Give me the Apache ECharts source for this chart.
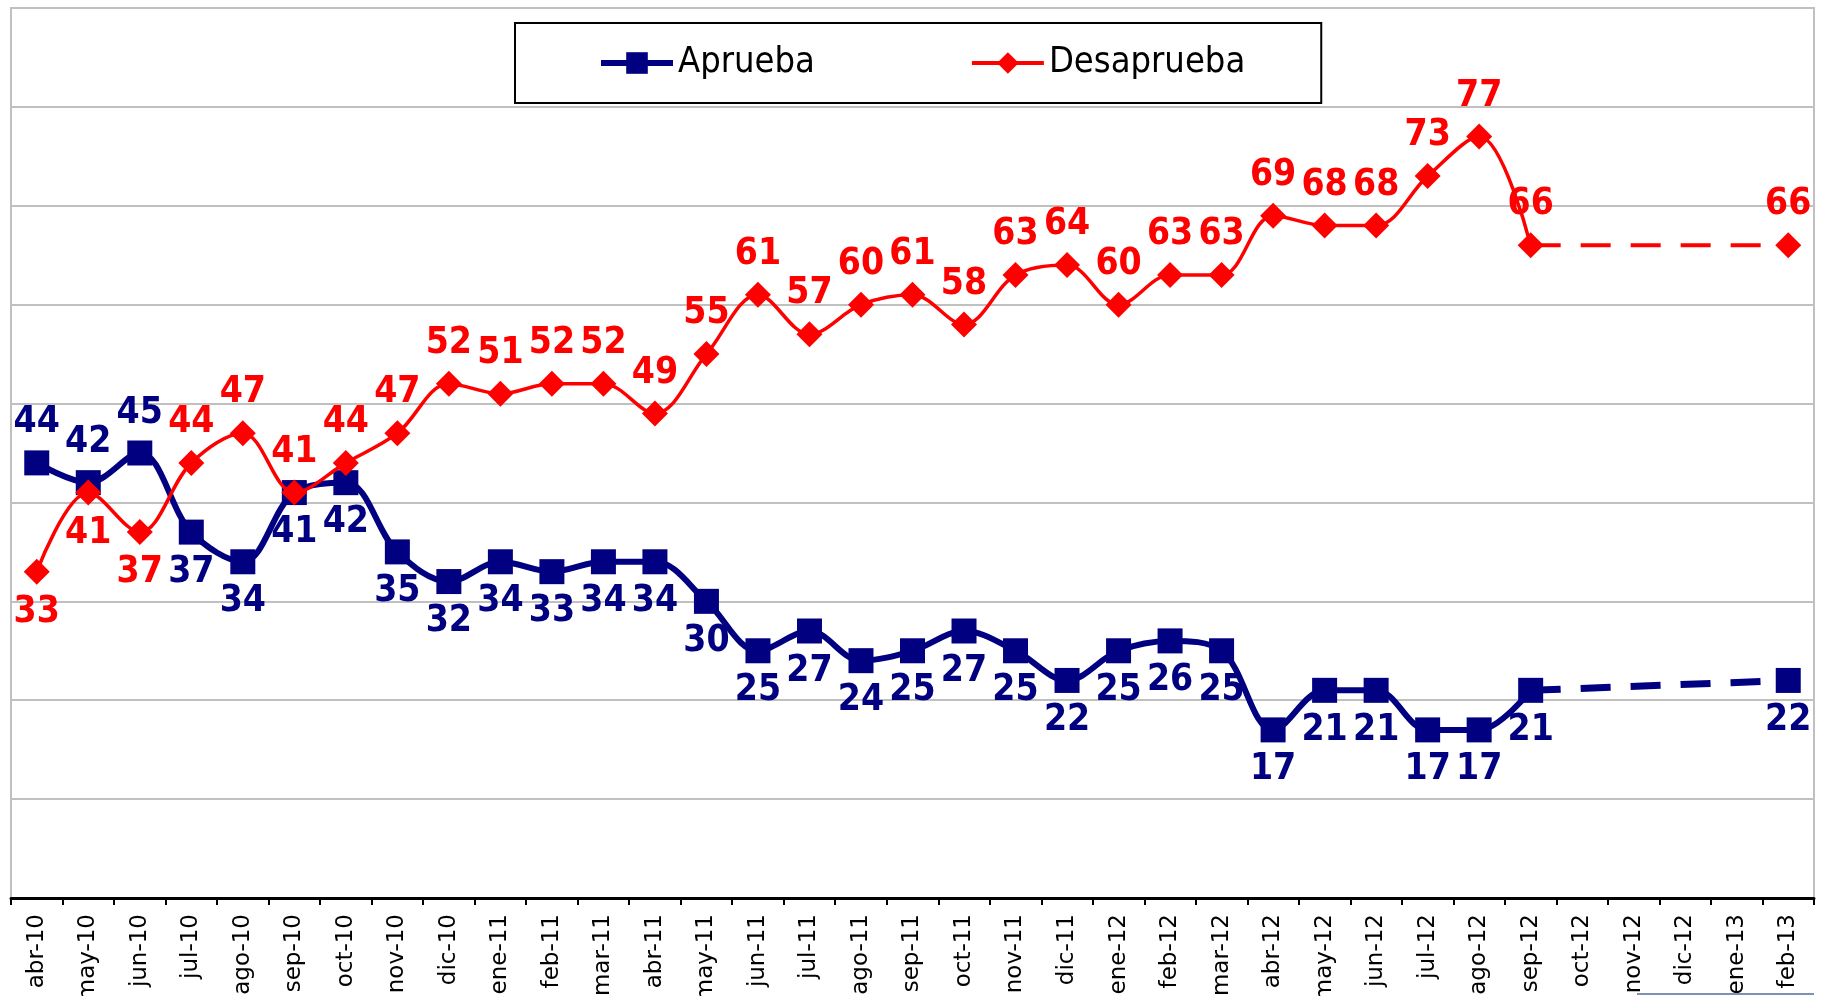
<!DOCTYPE html>
<html>
<head>
<meta charset="utf-8">
<title>Aprueba / Desaprueba</title>
<script src="https://cdn.jsdelivr.net/npm/echarts@6/dist/echarts.min.js"></script>
<style>
  html, body { margin: 0; padding: 0; background: #ffffff; }
  #chart { width: 1827px; height: 996px; }
</style>
</head>
<body>
<div id="chart"></div>
<script>
// Monthly survey: approval vs. disapproval (%)
const months = ['abr-10','may-10','jun-10','jul-10','ago-10','sep-10','oct-10','nov-10','dic-10',
  'ene-11','feb-11','mar-11','abr-11','may-11','jun-11','jul-11','ago-11','sep-11','oct-11','nov-11','dic-11',
  'ene-12','feb-12','mar-12','abr-12','may-12','jun-12','jul-12','ago-12','sep-12','oct-12','nov-12','dic-12',
  'ene-13','feb-13'];

// null = no survey that month
const aprueba = [44, 42, 45, 37, 34, 41, 42, 35, 32, 34, 33, 34, 34, 30, 25, 27, 24, 25, 27, 25, 22,
  25, 26, 25, 17, 21, 21, 17, 17, 21, null, null, null, null, 22];
const desaprueba = [33, 41, 37, 44, 47, 41, 44, 47, 52, 51, 52, 52, 49, 55, 61, 57, 60, 61, 58, 63, 64,
  60, 63, 63, 69, 68, 68, 73, 77, 66, null, null, null, null, 66];

// Points whose value label sits on the opposite side of the line
const apruebaLabelsAbove = [0, 1, 2];
const desapruebaLabelsBelow = [0, 1, 2];

const NAVY = '#000080';
const RED = '#ff0000';
const LABEL_FONT = '"DejaVu Sans Condensed", "DejaVu Sans", sans-serif';

// Continuous run of monthly readings (solid line)
function solidPart(values) {
  const firstGap = values.indexOf(null);
  return values.map((v, i) => (i < firstGap ? v : null));
}
// Bridge across the months without data (dashed line)
function bridgePart(values, pos) {
  const firstGap = values.indexOf(null);
  const last = values.length - 1;
  return values.map((v, i) => {
    if (i === firstGap - 1) return { value: v, symbol: 'none', label: { show: false } };
    if (i === last) return { value: v, label: { show: true, position: pos } };
    return null;
  });
}
function labelled(values, flipIdx, defPos, altPos) {
  return values.map((v, i) => {
    if (v === null) return null;
    return { value: v, label: { position: flipIdx.includes(i) ? altPos : defPos } };
  });
}

const labelBase = (color) => ({
  show: true,
  color: color,
  fontFamily: LABEL_FONT,
  fontWeight: 'bold',
  fontSize: 37,
  distance: 9
});

const chart = echarts.init(document.getElementById('chart'), null, { renderer: 'canvas' });

chart.setOption({
  backgroundColor: '#ffffff',
  animation: false,
  grid: {
    left: 11, right: 13, top: 8, bottom: 98,
    show: true, borderColor: '#c0c0c0', borderWidth: 2,
    containLabel: false, outerBoundsMode: 'none'
  },
  legend: {
    data: [
      { name: 'Aprueba', lineStyle: { width: 6, color: NAVY } },
      { name: 'Desaprueba', lineStyle: { width: 4, color: RED } }
    ],
    left: 515, top: 23,
    padding: [22, 76, 22, 83],
    itemGap: 155,
    itemWidth: 72,
    itemHeight: 27,
    borderColor: '#000000',
    borderWidth: 2,
    textStyle: { fontFamily: LABEL_FONT, fontSize: 36, color: '#000000' }
  },
  xAxis: {
    type: 'category',
    data: months,
    boundaryGap: true,
    axisLine: { lineStyle: { color: '#000000', width: 3 } },
    axisTick: { show: true, length: 7, lineStyle: { color: '#000000', width: 2 } },
    axisLabel: {
      interval: 0, rotate: 90, margin: 16,
      fontFamily: '"DejaVu Sans", sans-serif', fontSize: 23, color: '#000000'
    },
    splitLine: { show: false }
  },
  yAxis: {
    type: 'value',
    min: 0, max: 90, interval: 10,
    axisLine: { show: false },
    axisTick: { show: false },
    axisLabel: { show: false },
    splitLine: { lineStyle: { color: '#c0c0c0', width: 2 } }
  },
  graphic: [{
    type: 'line', z: 100,
    shape: { x1: 1637, y1: 994, x2: 1814, y2: 994 },
    style: { stroke: '#8090b0', lineWidth: 2 }
  }],
  series: [
    {
      name: 'Aprueba', type: 'line', smooth: 0.35,
      data: labelled(solidPart(aprueba), apruebaLabelsAbove, 'bottom', 'top'),
      symbol: 'rect', symbolSize: 25,
      lineStyle: { color: NAVY, width: 6 },
      itemStyle: { color: NAVY },
      label: labelBase(NAVY),
      z: 3
    },
    {
      name: 'Aprueba (tramo)', type: 'line', connectNulls: true,
      data: bridgePart(aprueba, 'bottom'),
      symbol: 'rect', symbolSize: 25,
      lineStyle: { color: NAVY, width: 7, type: [30, 20] },
      itemStyle: { color: NAVY },
      label: labelBase(NAVY),
      z: 3
    },
    {
      name: 'Desaprueba', type: 'line', smooth: 0.35,
      data: labelled(solidPart(desaprueba), desapruebaLabelsBelow, 'top', 'bottom'),
      symbol: 'diamond', symbolSize: [26, 26],
      lineStyle: { color: RED, width: 3.5 },
      itemStyle: { color: RED },
      label: labelBase(RED),
      z: 4
    },
    {
      name: 'Desaprueba (tramo)', type: 'line', connectNulls: true,
      data: bridgePart(desaprueba, 'top'),
      symbol: 'diamond', symbolSize: [26, 26],
      lineStyle: { color: RED, width: 4, type: [30, 20] },
      itemStyle: { color: RED },
      label: labelBase(RED),
      z: 4
    }
  ]
});
</script>
</body>
</html>
